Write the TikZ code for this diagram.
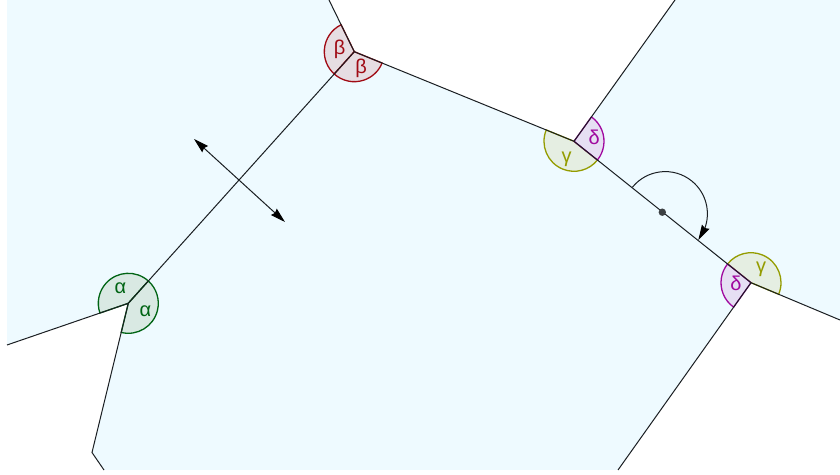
\documentclass[tikz,border=0pt]{standalone}
\usepackage{fontspec}
\setmainfont{Liberation Sans}
\usetikzlibrary{arrows.meta,bending,calc}
\definecolor{sea}{HTML}{EEFAFF}
\definecolor{inkline}{HTML}{1A1E22}
\definecolor{alphaC}{HTML}{006414}
\definecolor{betaC}{HTML}{A00A14}
\definecolor{gammaC}{HTML}{949C00}
\definecolor{deltaC}{HTML}{A0089F}
\definecolor{alphaF}{HTML}{D9E9E3}
\definecolor{betaF}{HTML}{E6DDE2}
\definecolor{gammaF}{HTML}{E5EEE2}
\definecolor{deltaF}{HTML}{E6DFF3}
\tikzset{
  edgeline/.style={draw=inkline,line width=1pt},
  wedgeA/.style={draw=alphaC,fill=alphaF,line width=1.3pt},
  wedgeB/.style={draw=betaC,fill=betaF,line width=1.3pt},
  wedgeG/.style={draw=gammaC,fill=gammaF,line width=1.3pt},
  wedgeD/.style={draw=deltaC,fill=deltaF,line width=1.3pt},
  lab/.style={inner sep=0pt,font=\fontsize{20}{20}\selectfont},
  tip/.style={-{Stealth[length=15pt,width=8.5pt,inset=1.5pt,flex,color=black]}},
}
\newcommand{\wedgeat}[4]{\path[#1] (#2) -- ++(#3:30) arc[start angle=#3,end angle=#4,radius=30] -- cycle;}
\begin{document}
\begin{tikzpicture}[x=1pt,y=1pt]
\useasboundingbox (0,0) rectangle (840,474);
% vertices
\coordinate (A) at (128.3,170.7);
\coordinate (B) at (354.3,422.3);
\coordinate (C) at (574,332.7);
\coordinate (D) at (751,191.3);
\coordinate (Aleft) at (7,129);
\coordinate (Akink) at (92,21.5);
\coordinate (Abot) at (104,4);
\coordinate (Btop) at (329,474);
\coordinate (Ctop) at (675,474);
\coordinate (Dright) at (840,154);
\coordinate (Dbot) at (618,4);
\coordinate (M) at (662.3,261.8);
\coordinate (Marc) at (665.2,260.2);
\coordinate (P) at (194,335);
\coordinate (Q) at (285,252);
% sea
\fill[sea] (7,4) rectangle (840,474);
\fill[white] (Btop) -- (B) -- (C) -- (Ctop) -- cycle;
\fill[white] (Dright) -- (D) -- (Dbot) -- (840,4) -- cycle;
\fill[white] (Aleft) -- (A) -- (Akink) -- (Abot) -- (7,4) -- cycle;
% angle wedges
\wedgeat{wedgeA}{A}{48.07}{198.97}
\wedgeat{wedgeA}{A}{-103.7}{48.07}
\wedgeat{wedgeB}{B}{116.07}{228.07}
\wedgeat{wedgeB}{B}{228.07}{337.8}
\wedgeat{wedgeG}{C}{157.8}{321.4}
\wedgeat{wedgeD}{C}{-38.6}{54.4}
\wedgeat{wedgeG}{D}{-22.7}{141.4}
\wedgeat{wedgeD}{D}{141.4}{234.6}
% edges
\draw[edgeline] (Aleft) -- (A) -- (Akink) -- (Abot);
\draw[edgeline] (A) -- (B);
\draw[edgeline] (Btop) -- (B) -- (C) -- (Ctop);
\draw[edgeline] (C) -- (D);
\draw[edgeline] (Dright) -- (D) -- (Dbot);
% arrows
\draw[edgeline,tip] (Marc) ++(141:42.2) arc[start angle=141,end angle=-38.2,radius=42.2];
\fill[inkline!85!white] (M) circle (3.7);
\coordinate (X) at ($(P)!0.5!(Q)$);
\draw[edgeline,tip] (X) -- (P);
\draw[edgeline,tip] (X) -- (Q);
% labels
\node[lab,text=alphaC] (la1) at (120.3,186) {α};
\node[lab,text=alphaC] (la2) at (145.3,163) {α};
\node[lab,text=betaC] (lb1) at (339.7,425) {β};
\node[lab,text=betaC] (lb2) at (361,406) {β};
\node[lab,text=gammaC] (lg1) at (566.7,315) {γ};
\node[lab,text=deltaC] (ld1) at (594.3,337) {δ};
\node[lab,text=gammaC] (lg2) at (761,205) {γ};
\node[lab,text=deltaC] (ld2) at (736,191) {δ};
\end{tikzpicture}
\end{document}
